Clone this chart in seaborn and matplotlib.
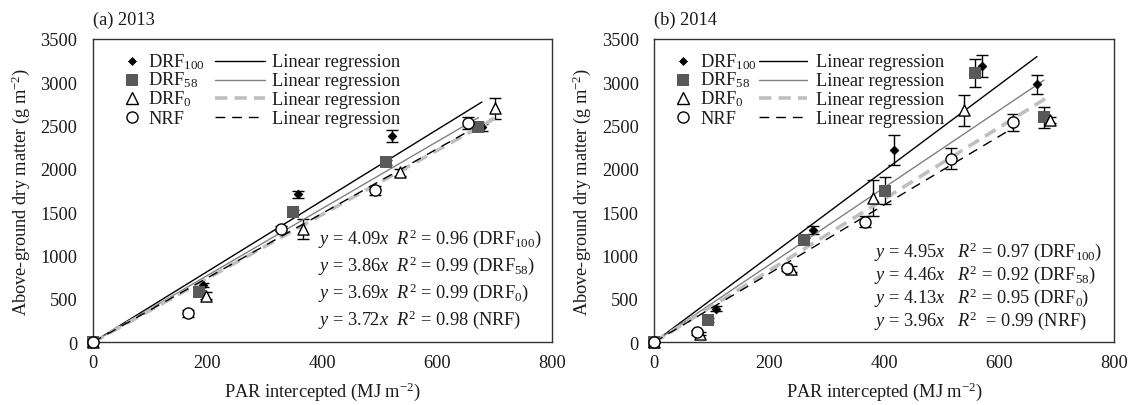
import matplotlib
matplotlib.use("Agg")
import matplotlib.pyplot as plt
import seaborn as sns

# ---- data ----
names = ['DRF$_{100}$', 'DRF$_{58}$', 'DRF$_{0}$', 'NRF']

# 2013
par13_drf100 = [0, 192, 358, 521, 678]
dm13_drf100 = [0, 665, 1710, 2380, 2480]
err13_drf100 = [0, 25, 40, 65, 40]
par13_drf58 = [0, 185, 349, 511, 672]
dm13_drf58 = [0, 577, 1500, 2075, 2490]
err13_drf58 = [0, 30, 30, 30, 55]
par13_drf0 = [0, 198, 366, 536, 700]
dm13_drf0 = [0, 540, 1307, 1960, 2700]
err13_drf0 = [0, 40, 115, 40, 120]
par13_nrf = [0, 166, 328, 491, 653]
dm13_nrf = [0, 335, 1310, 1755, 2530]
err13_nrf = [0, 40, 30, 50, 65]
slope13 = [4.09, 3.86, 3.69, 3.72]
r2_13 = [0.96, 0.99, 0.99, 0.98]

# 2014
par14_drf100 = [0, 107, 276, 418, 570, 666]
dm14_drf100 = [0, 390, 1295, 2220, 3190, 2975]
err14_drf100 = [0, 25, 45, 170, 130, 115]
par14_drf58 = [0, 94, 260, 402, 559, 678]
dm14_drf58 = [0, 255, 1178, 1750, 3110, 2595]
err14_drf58 = [0, 20, 30, 155, 160, 120]
par14_drf0 = [0, 80, 239, 380, 540, 688]
dm14_drf0 = [0, 100, 846, 1665, 2675, 2565]
err14_drf0 = [0, 20, 30, 210, 175, 40]
par14_nrf = [0, 74, 232, 367, 516, 624]
dm14_nrf = [0, 115, 854, 1392, 2120, 2538]
err14_nrf = [0, 30, 30, 65, 120, 95]
slope14 = [4.95, 4.46, 4.13, 3.96]
r2_14 = [0.97, 0.92, 0.95, 0.99]

xticks = [0, 200, 400, 600, 800]
yticks = [0, 500, 1000, 1500, 2000, 2500, 3000, 3500]

# ---- styles ----
sns.set_style("white")
plt.rcParams['font.family'] = ['Liberation Serif', 'DejaVu Serif']
plt.rcParams['mathtext.fontset'] = 'custom'
plt.rcParams['mathtext.rm'] = 'Liberation Serif'
plt.rcParams['mathtext.it'] = 'Liberation Serif:italic'
plt.rcParams['mathtext.bf'] = 'Liberation Serif:bold'
FS = 13.2
TXT = '#1a1a1a'

mk_style = [
    dict(marker='D', s=20, color='black', edgecolor='black', linewidth=0.5),
    dict(marker='s', s=81, color='#595959', edgecolor='#595959', linewidth=0),
    dict(marker='^', s=64, color='white', edgecolor='black', linewidth=1.0),
    dict(marker='o', s=64, color='white', edgecolor='black', linewidth=1.0),
]
ln_style = [
    dict(color='black', linewidth=1.0, linestyle='-'),
    dict(color='#808080', linewidth=1.0, linestyle='-'),
    dict(color='#bfbfbf', linewidth=2.6, linestyle=(0, (3.4, 2.0))),
    dict(color='black', linewidth=1.0, linestyle=(0, (7, 5))),
]

AX_H = 303.3  # axes height in px, for the legend row spacing


def draw_panel(ax, series, slopes, r2s, title, leg, eq):
    for i, (px, py, pe) in enumerate(series):
        ax.errorbar(px, py, yerr=pe, fmt='none', ecolor='black', elinewidth=1.0,
                    capsize=4, capthick=1.0, zorder=2, clip_on=False)
        xmax = max(px)
        sns.lineplot(x=[0, xmax], y=[0, slopes[i] * xmax], ax=ax, zorder=3,
                     **ln_style[i])
        sns.scatterplot(x=px, y=py, ax=ax, zorder=4, clip_on=False, legend=False,
                        **mk_style[i])

    ax.set_xlim(0, 800)
    ax.set_ylim(0, 3500)
    ax.set_xticks(xticks)
    ax.set_yticks(yticks)
    ax.tick_params(axis='both', direction='in', length=4, width=1,
                   labelsize=FS, colors=TXT)
    ax.tick_params(axis='x', pad=8.5)
    ax.tick_params(axis='y', pad=11)
    for sp in ax.spines.values():
        sp.set_color('#333333')
        sp.set_linewidth(1.0)
    ax.set_xlabel('PAR intercepted (MJ m$^{-2}$)', fontsize=FS, color=TXT, labelpad=6)
    ax.set_ylabel('Above-ground dry matter (g m$^{-2}$)', fontsize=FS, color=TXT, labelpad=6)
    ax.set_title(title, loc='left', fontsize=FS, color=TXT, pad=11)

    # legend drawn by hand: marker key + name, line key + "Linear regression"
    for i in range(4):
        ymk = 1 - (21.7 + 18.9 * i) / AX_H
        ybl = 1 - (26.9 + 18.9 * i) / AX_H
        m = mk_style[i]
        ax.plot([leg['mx']], [ymk], transform=ax.transAxes, clip_on=False,
                linestyle='none', marker=m['marker'], markersize=m['s'] ** 0.5,
                markerfacecolor=m['color'], markeredgecolor=m['edgecolor'],
                markeredgewidth=m['linewidth'])
        ax.text(leg['tx'], ybl, names[i], transform=ax.transAxes, fontsize=FS,
                color=TXT, ha='left', va='baseline')
        ax.plot([leg['l0'], leg['l1']], [ymk, ymk], transform=ax.transAxes,
                clip_on=False, **ln_style[i])
        ax.text(leg['lt'], ybl, 'Linear regression', transform=ax.transAxes,
                fontsize=FS, color=TXT, ha='left', va='baseline')

    # equations
    for i in range(4):
        s = '$y$ = {:.2f}$x${}$R^2${}= {:.2f} ({})'.format(
            slopes[i], eq['gap'], eq['gap2'][i], r2s[i], names[i])
        ax.text(eq['x'], eq['y0'] - i * eq['dy'], s, transform=ax.transAxes,
                fontsize=FS, color=TXT, ha='left', va='baseline')


fig = plt.figure(figsize=(11.29, 4.06), dpi=100)
ax1 = fig.add_axes([0.0821, 0.1544, 0.4068, 0.7471])
ax2 = fig.add_axes([0.5793, 0.1544, 0.4074, 0.7471])

draw_panel(ax1,
           [(par13_drf100, dm13_drf100, err13_drf100),
            (par13_drf58, dm13_drf58, err13_drf58),
            (par13_drf0, dm13_drf0, err13_drf0),
            (par13_nrf, dm13_nrf, err13_nrf)],
           slope13, r2_13, '(a) 2013',
           dict(mx=0.0849, tx=0.121, l0=0.2663, l1=0.3751, lt=0.3897),
           dict(x=0.491, y0=0.327, dy=0.089, gap='  ', gap2=[' '] * 4))

draw_panel(ax2,
           [(par14_drf100, dm14_drf100, err14_drf100),
            (par14_drf58, dm14_drf58, err14_drf58),
            (par14_drf0, dm14_drf0, err14_drf0),
            (par14_nrf, dm14_nrf, err14_nrf)],
           slope14, r2_14, '(b) 2014',
           dict(mx=0.0624, tx=0.100, l0=0.2283, l1=0.3320, lt=0.3522),
           dict(x=0.479, y0=0.286, dy=0.0765, gap='   ', gap2=[' ', ' ', ' ', '  ']))

fig.savefig('out.png', dpi=100)
